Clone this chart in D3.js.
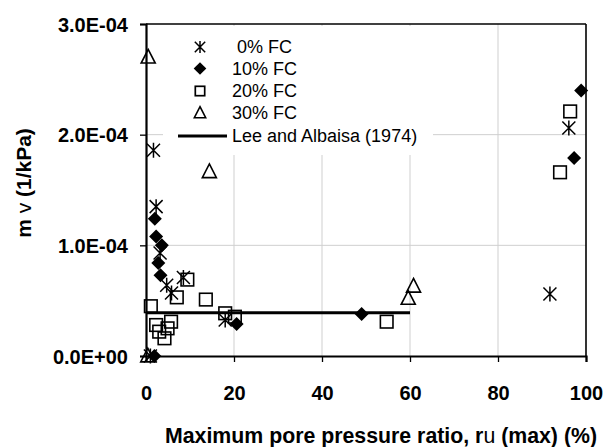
<!DOCTYPE html>
<html><head><meta charset="utf-8">
<script src="https://cdn.jsdelivr.net/npm/d3@7"></script>
<style>body{margin:0;background:#fff}svg{display:block}text{font-family:"Liberation Sans",Arial,sans-serif}</style>
</head><body>
<script>
// ---- data ----
const fc0X  = [1.7, 2.3, 3.2, 4.7, 5.8, 8.5, 18.0, 91.8, 96.1, 1.0];
const fc0Y  = [1.86e-4, 1.35e-4, 0.93e-4, 0.64e-4, 0.57e-4, 0.71e-4, 0.325e-4, 0.56e-4, 2.06e-4, 0];
const fc10X = [2.0, 2.3, 3.6, 2.8, 3.3, 20.6, 49.0, 97.3, 98.9, 1.9];
const fc10Y = [1.24e-4, 1.08e-4, 1.00e-4, 0.84e-4, 0.73e-4, 0.29e-4, 0.38e-4, 1.79e-4, 2.40e-4, 0];
const fc20X = [9.4, 7.0, 13.6, 1.1, 18.0, 20.2, 2.3, 5.7, 3.0, 4.9, 4.2, 54.7, 94.1, 96.4];
const fc20Y = [0.69e-4, 0.53e-4, 0.51e-4, 0.45e-4, 0.386e-4, 0.355e-4, 0.28e-4, 0.31e-4, 0.22e-4, 0.25e-4, 0.16e-4, 0.31e-4, 1.66e-4, 2.21e-4];
const fc30X = [0.5, 14.4, 59.6, 60.8, 0.4];
const fc30Y = [2.70e-4, 1.665e-4, 0.52e-4, 0.63e-4, 0];
const leeX  = [0, 60];
const leeY  = [3.9e-5, 3.9e-5];
const xTicks = [0, 20, 40, 60, 80, 100];
const yTicks = [0, 1e-4, 2e-4, 3e-4];
const yTickLabels = ["0.0E+00", "1.0E-04", "2.0E-04", "3.0E-04"];
const legendLabels = ["\u00a00% FC", "10% FC", "20% FC", "30% FC", "Lee and Albaisa (1974)"];

const W = 608, H = 447;
const m = {left:146, right:22, top:24, bottom:91};
const x = d3.scaleLinear().domain([0,100]).range([m.left, W-m.right]);
const y = d3.scaleLinear().domain([0,3e-4]).range([H-m.bottom, m.top]);

const svg = d3.select("body").append("svg").attr("width",W).attr("height",H);

// gridlines
svg.append("g").selectAll("line").data(xTicks.slice(1,-1)).join("line")
  .attr("x1",d=>x(d)).attr("x2",d=>x(d)).attr("y1",y(0)).attr("y2",y(3e-4))
  .attr("stroke","#cfcfcf").attr("stroke-width",1);
svg.append("g").selectAll("line").data(yTicks.slice(1,-1)).join("line")
  .attr("x1",x(0)).attr("x2",x(100)).attr("y1",d=>y(d)).attr("y2",d=>y(d))
  .attr("stroke","#cfcfcf").attr("stroke-width",1);

// frame top/right
svg.append("line").attr("x1",x(0)).attr("x2",x(100)).attr("y1",y(3e-4)).attr("y2",y(3e-4)).attr("stroke","#000").attr("stroke-width",1.6);
svg.append("line").attr("x1",x(100)).attr("x2",x(100)).attr("y1",y(0)).attr("y2",y(3e-4)).attr("stroke","#000").attr("stroke-width",1.6);

// axes
const xAxis = svg.append("g").attr("transform",`translate(0,${y(0)})`)
  .call(d3.axisBottom(x).tickValues(xTicks).tickSize(6).tickPadding(24).tickFormat(d3.format("d")));
const yAxis = svg.append("g").attr("transform",`translate(${x(0)},0)`)
  .call(d3.axisLeft(y).tickValues(yTicks).tickSize(6).tickPadding(12).tickFormat((d,i)=>yTickLabels[i]));
[xAxis,yAxis].forEach(g=>{
  g.select(".domain").attr("stroke","#000").attr("stroke-width",2.2);
  g.selectAll(".tick line").attr("stroke","#000").attr("stroke-width",1.3);
  g.selectAll(".tick text").attr("fill","#000").attr("font-weight","bold")
   .style("font-family",'"Liberation Sans",Arial,sans-serif');
});
xAxis.selectAll(".tick text").attr("font-size",20);
yAxis.selectAll(".tick text").attr("font-size",20).attr("dy","0.36em");

// legend box (white, behind)
svg.append("rect").attr("x",163).attr("y",26).attr("width",270).attr("height",129).attr("fill","#fff");

// marker drawers
function asterisk(g, r, sw){
  g.append("path").attr("d",`M${-r},${-r}L${r},${r}M${-r},${r}L${r},${-r}M0,${-r*1.15}L0,${r*1.15}`)
   .attr("stroke","#000").attr("stroke-width",sw).attr("fill","none");
}
function diamond(g, r){
  g.append("path").attr("d",`M0,${-r}L${r},0L0,${r}L${-r},0Z`).attr("fill","#000");
}
function square(g, r, sw){
  g.append("rect").attr("x",-r).attr("y",-r).attr("width",2*r).attr("height",2*r)
   .attr("fill","none").attr("stroke","#000").attr("stroke-width",sw);
}
function triangle(g, r, sw){
  g.append("path").attr("d",`M0,${-r}L${r*0.9},${r*0.75}L${-r*0.9},${r*0.75}Z`)
   .attr("fill","none").attr("stroke","#000").attr("stroke-width",sw);
}

function plotSeries(xs, ys, draw){
  const gg = svg.append("g");
  xs.forEach((xv,i)=>{
    const g = gg.append("g").attr("transform",`translate(${x(xv)},${y(ys[i])})`);
    draw(g);
  });
}
plotSeries(fc0X, fc0Y, g=>asterisk(g,6.5,1.5));
plotSeries(fc10X, fc10Y, g=>diamond(g,7));
plotSeries(fc20X, fc20Y, g=>square(g,6.3,1.6));
plotSeries(fc30X, fc30Y, g=>triangle(g,7.8,1.6));

// Lee and Albaisa line
svg.append("path").datum(leeX.map((d,i)=>[d,leeY[i]]))
  .attr("d",d3.line().x(d=>x(d[0])).y(d=>y(d[1])))
  .attr("stroke","#000").attr("stroke-width",3).attr("fill","none");

// legend
const legY = [47, 68.5, 91, 113, 136];
const lg = svg.append("g");
const drawers = [g=>asterisk(g,5.2,1.5), g=>diamond(g,6.3), g=>square(g,4.7,1.7), g=>triangle(g,6.3,1.6)];
drawers.forEach((dr,i)=>{
  const g = lg.append("g").attr("transform",`translate(200,${legY[i]})`); dr(g);
});
lg.append("line").attr("x1",178).attr("x2",227).attr("y1",legY[4]).attr("y2",legY[4]).attr("stroke","#000").attr("stroke-width",3);
lg.selectAll("text").data(legendLabels).join("text")
  .attr("x",232).attr("y",(d,i)=>legY[i]).attr("dy","0.36em")
  .attr("font-size",18).attr("fill","#000").text(d=>d);

// axis titles
const xt = svg.append("text").attr("x",381).attr("y",443).attr("text-anchor","middle")
  .attr("font-size",21.3).attr("font-weight","bold").attr("fill","#000");
xt.append("tspan").text("Maximum pore pressure ratio, r");
xt.append("tspan").attr("font-weight","normal").text("u");
xt.append("tspan").text(" (max) (%)");

const yt = svg.append("text").attr("transform","translate(31,183) rotate(-90)").attr("text-anchor","middle")
  .attr("font-size",21).attr("font-weight","bold").attr("fill","#000");
yt.append("tspan").text("m ");
yt.append("tspan").attr("font-weight","normal").text("v");
yt.append("tspan").text(" (1/kPa)");
</script>
</body></html>
